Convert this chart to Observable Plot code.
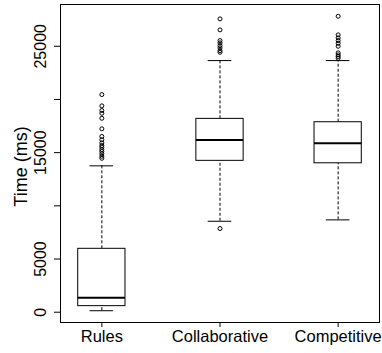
<!DOCTYPE html>
<html><head><meta charset="utf-8">
<script src="https://cdn.jsdelivr.net/npm/d3@7"></script>
<script src="https://cdn.jsdelivr.net/npm/@observablehq/plot@0.6"></script>
<style>
body{margin:0;background:#fff}
svg{font-family:"Liberation Sans",Arial,Helvetica,sans-serif}
</style>
</head><body><div id="chart"></div>
<script>
const categories = ["Rules", "Collaborative", "Competitive"];
const lowerWhisker = [140, 8550, 8680];
const q1 = [570, 14230, 14000];
const median = [1360, 16200, 15880];
const q3 = [5960, 18175, 17860];
const upperWhisker = [13760, 23655, 23655];
const rulesOutliers = [20460, 19400, 18960, 18700, 18230, 17240, 16520, 16210, 15920, 15670, 15510, 15290, 15110, 14890, 14660, 14470];
const collaborativeOutliers = [27575, 26540, 25535, 25320, 25065, 24850, 24595, 24435, 7866];
const competitiveOutliers = [27820, 26070, 25790, 25535, 25280, 25000, 24380, 24190, 24030, 23870];
const yTicks = [0, 5000, 10000, 15000, 20000, 25000];
const yTickLabels = [0, 5000, 15000, 25000];
const yTitle = "Time (ms)";

const outlierLists = [rulesOutliers, collaborativeOutliers, competitiveOutliers];
const stats = categories.map((c, i) => ({
  cat: c, x: i + 1, lo: lowerWhisker[i], q1: q1[i], med: median[i], q3: q3[i], hi: upperWhisker[i]
}));
const outlierRows = outlierLists.flatMap((list, i) => list.map(v => ({x: i + 1, v})));

// R-style 4% range extension
const all = [...lowerWhisker, ...upperWhisker, ...outlierLists.flat()];
const ymin = d3.min(all), ymax = d3.max(all), ext = (ymax - ymin) * 0.04;

const boxHalf = 0.2, capHalf = 0.1;

const chart = Plot.plot({
  width: 382,
  height: 353,
  marginLeft: 60,
  marginRight: 3,
  marginTop: 4,
  marginBottom: 31,
  x: {type: "linear", domain: [0.65, 3.35], axis: null},
  y: {domain: [ymin - ext, ymax + ext], axis: null},
  marks: [
    // whiskers
    Plot.ruleX(stats, {x: "x", y1: "q3", y2: "hi", stroke: "black", strokeDasharray: "3,2"}),
    Plot.ruleX(stats, {x: "x", y1: "lo", y2: "q1", stroke: "black", strokeDasharray: "3,2"}),
    Plot.ruleY(stats, {y: "hi", x1: d => d.x - capHalf, x2: d => d.x + capHalf, stroke: "black"}),
    Plot.ruleY(stats, {y: "lo", x1: d => d.x - capHalf, x2: d => d.x + capHalf, stroke: "black"}),
    // boxes
    Plot.rect(stats, {x1: d => d.x - boxHalf, x2: d => d.x + boxHalf, y1: "q1", y2: "q3", fill: "white", stroke: "black"}),
    Plot.ruleY(stats, {y: "med", x1: d => d.x - boxHalf, x2: d => d.x + boxHalf, stroke: "black", strokeWidth: 2}),
    // outliers
    Plot.dot(outlierRows, {x: "x", y: "v", r: 2, stroke: "black", fill: "none", strokeWidth: 1}),
    // axes
    Plot.axisY({ticks: yTicks, tickSize: 6, tickFormat: () => "", label: null}),
    Plot.text(yTickLabels, {y: d => d, text: d => String(d), frameAnchor: "left", dx: -20, rotate: -90, textAnchor: "middle", lineAnchor: "middle", fontSize: 16, fill: "black"}),
    Plot.text([yTitle], {text: d => d, frameAnchor: "left", dx: -39, dy: 3, rotate: -90, textAnchor: "middle", lineAnchor: "middle", fontSize: 18, fill: "black"}),
    Plot.axisX({ticks: [1, 2, 3], tickFormat: d => categories[d - 1], tickSize: 5, tickPadding: 3, fontSize: 16.5, label: null, fill: "black"}),
    Plot.frame({stroke: "black"})
  ]
});
document.getElementById("chart").appendChild(chart);
</script>
</body></html>
